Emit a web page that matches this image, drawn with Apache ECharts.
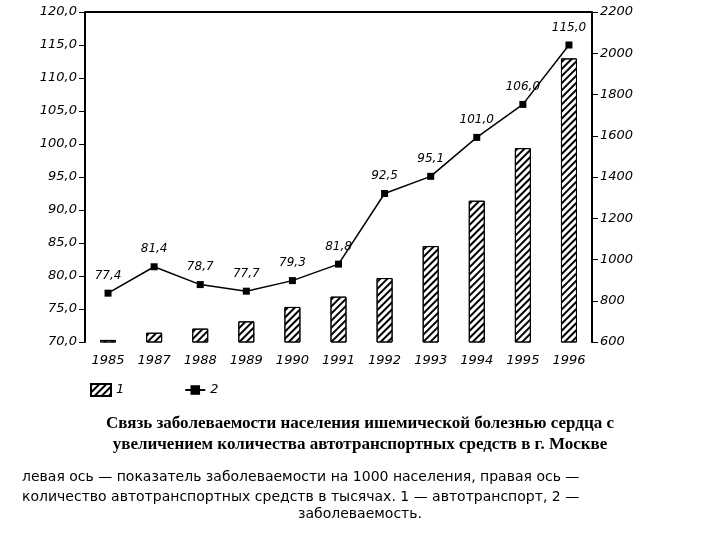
<!DOCTYPE html>
<html lang="ru">
<head>
<meta charset="UTF-8">
<title>Заболеваемость и автотранспорт</title>
<script src="https://cdn.jsdelivr.net/npm/echarts@6/dist/echarts.min.js"></script>
</head>
<body style="margin:0;background:#fff">
<div id="main" style="width:720px;height:540px"></div>
<script>
var years = ['1985', '1987', '1988', '1989', '1990', '1991', '1992', '1993', '1994', '1995', '1996'];
var cars = [610, 645, 665, 700, 770, 820, 910, 1065, 1285, 1540, 1975];        // тыс. автотранспорта (правая ось)
var morbidity = [77.4, 81.4, 78.7, 77.7, 79.3, 81.8, 92.5, 95.1, 101.0, 106.0, 115.0]; // на 1000 населения (левая ось)

var myChart = echarts.init(document.getElementById('main'));
var lbl = {color: '#000', fontStyle: 'italic', fontFamily: 'DejaVu Sans', fontSize: 13};
function comma(v) { return v.toFixed(1).replace('.', ','); }

var option = {
    backgroundColor: '#fff',
    animation: false,
    grid: {left: 85, right: 128, top: 12, bottom: 198},
    legend: {
        left: 85, top: 378, itemGap: 60, selectedMode: false,
        itemWidth: 20, itemHeight: 12,
        textStyle: lbl,
        data: [{name: '1', icon: 'rect'}, '2']
    },
    xAxis: {
        type: 'category', data: years,
        axisLine: {show: false}, axisTick: {show: false},
        axisLabel: Object.assign({margin: 12}, lbl)
    },
    yAxis: [{
        type: 'value', min: 70, max: 120, interval: 5,
        axisLine: {show: true, lineStyle: {color: '#000', width: 2}},
        axisTick: {show: true, length: 6, lineStyle: {color: '#000'}},
        splitLine: {show: false},
        axisLabel: Object.assign({formatter: comma}, lbl)
    }, {
        type: 'value', min: 600, max: 2200, interval: 200,
        axisLine: {show: true, lineStyle: {color: '#000', width: 2}},
        axisTick: {show: true, length: 6, lineStyle: {color: '#000'}},
        splitLine: {show: false},
        axisLabel: Object.assign({formatter: function (v) { return String(v); }}, lbl)
    }],
    graphic: [
        {type: 'line', shape: {x1: 85, y1: 12, x2: 592, y2: 12}, style: {stroke: '#000', lineWidth: 2}},
        {type: 'text', left: 'center', top: 413, style: {text: 'Связь заболеваемости населения ишемической болезнью сердца с\nувеличением количества автотранспортных средств в г. Москве',
            font: 'bold 17px "Liberation Serif"', fill: '#000', textAlign: 'center', lineHeight: 21}},
        {type: 'text', left: 22, top: 467, style: {text: 'левая ось — показатель заболеваемости на 1000 населения, правая ось —\nколичество автотранспортных средств в тысячах. 1 — автотранспорт, 2 —',
            font: '14px "DejaVu Sans"', fill: '#000', lineHeight: 20}},
        {type: 'text', left: 'center', top: 507, style: {text: 'заболеваемость.', font: '14px "DejaVu Sans"', fill: '#000'}}
    ],
    series: [{
        name: '1', type: 'bar', yAxisIndex: 1, barWidth: 16,
        itemStyle: {
            color: '#fff', borderColor: '#000', borderWidth: 1,
            decal: {symbol: 'rect', color: '#000', dashArrayX: [1, 0], dashArrayY: [1.5, 3], rotation: -Math.PI / 4}
        },
        data: cars
    }, {
        name: '2', type: 'line', yAxisIndex: 0,
        symbol: 'rect', symbolSize: 7,
        lineStyle: {color: '#000', width: 1.5}, itemStyle: {color: '#000'},
        label: {show: true, position: 'top', distance: 8, color: '#000', fontStyle: 'italic', fontFamily: 'DejaVu Sans', fontSize: 12,
            formatter: function (p) { return comma(p.value); }},
        data: morbidity
    }]
};
myChart.setOption(option);
</script>
</body>
</html>
